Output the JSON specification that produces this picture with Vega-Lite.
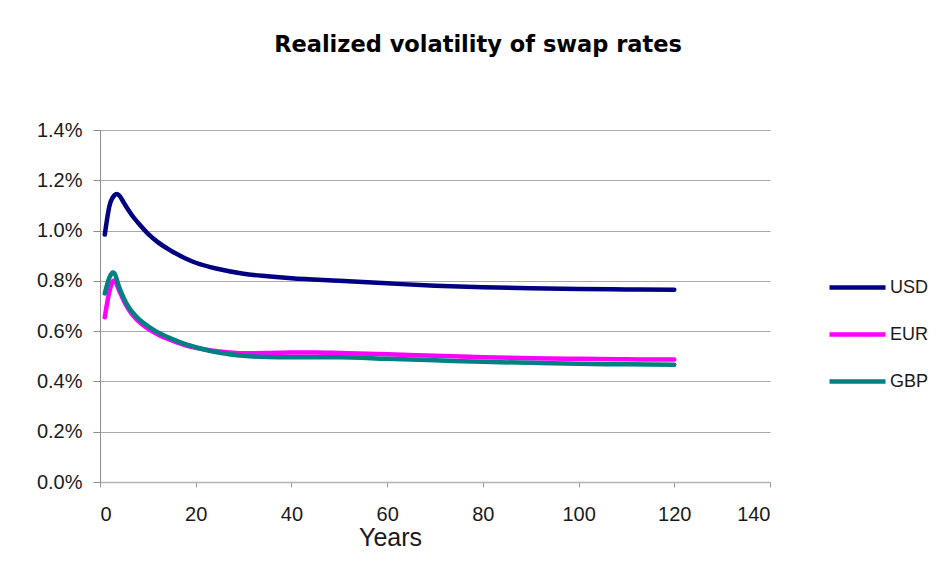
{
  "$schema": "https://vega.github.io/schema/vega-lite/v6.json",
  "description": "Realized volatility of swap rates by maturity (years) for USD, EUR and GBP.",
  "width": 670,
  "height": 352,
  "autosize": {"type": "none"},
  "padding": {"left": 100, "top": 130, "right": 168, "bottom": 81},
  "background": "white",
  "title": {
    "text": "Realized volatility of swap rates",
    "anchor": "middle",
    "dx": 43,
    "offset": 64,
    "font": "DejaVu Sans",
    "fontSize": 22.5,
    "fontWeight": "bold",
    "color": "black"
  },
  "data": {
    "values": [
      {"years": 1, "currency": "USD", "vol": 0.984},
      {"years": 2, "currency": "USD", "vol": 1.10},
      {"years": 3, "currency": "USD", "vol": 1.14},
      {"years": 3.5, "currency": "USD", "vol": 1.145},
      {"years": 4, "currency": "USD", "vol": 1.14},
      {"years": 5, "currency": "USD", "vol": 1.11},
      {"years": 6, "currency": "USD", "vol": 1.08},
      {"years": 7, "currency": "USD", "vol": 1.053},
      {"years": 8, "currency": "USD", "vol": 1.03},
      {"years": 10, "currency": "USD", "vol": 0.988},
      {"years": 12, "currency": "USD", "vol": 0.955},
      {"years": 15, "currency": "USD", "vol": 0.918},
      {"years": 18, "currency": "USD", "vol": 0.888},
      {"years": 20, "currency": "USD", "vol": 0.872},
      {"years": 25, "currency": "USD", "vol": 0.846},
      {"years": 30, "currency": "USD", "vol": 0.828},
      {"years": 35, "currency": "USD", "vol": 0.818},
      {"years": 40, "currency": "USD", "vol": 0.810},
      {"years": 50, "currency": "USD", "vol": 0.800},
      {"years": 60, "currency": "USD", "vol": 0.790},
      {"years": 70, "currency": "USD", "vol": 0.781},
      {"years": 80, "currency": "USD", "vol": 0.775},
      {"years": 90, "currency": "USD", "vol": 0.771},
      {"years": 100, "currency": "USD", "vol": 0.768},
      {"years": 110, "currency": "USD", "vol": 0.766},
      {"years": 120, "currency": "USD", "vol": 0.765},

      {"years": 1, "currency": "EUR", "vol": 0.655},
      {"years": 2, "currency": "EUR", "vol": 0.76},
      {"years": 2.8, "currency": "EUR", "vol": 0.80},
      {"years": 3, "currency": "EUR", "vol": 0.80},
      {"years": 4, "currency": "EUR", "vol": 0.762},
      {"years": 5, "currency": "EUR", "vol": 0.72},
      {"years": 6, "currency": "EUR", "vol": 0.686},
      {"years": 7, "currency": "EUR", "vol": 0.66},
      {"years": 8, "currency": "EUR", "vol": 0.64},
      {"years": 10, "currency": "EUR", "vol": 0.61},
      {"years": 12, "currency": "EUR", "vol": 0.588},
      {"years": 15, "currency": "EUR", "vol": 0.563},
      {"years": 18, "currency": "EUR", "vol": 0.543},
      {"years": 20, "currency": "EUR", "vol": 0.534},
      {"years": 25, "currency": "EUR", "vol": 0.519},
      {"years": 30, "currency": "EUR", "vol": 0.512},
      {"years": 35, "currency": "EUR", "vol": 0.513},
      {"years": 40, "currency": "EUR", "vol": 0.515},
      {"years": 45, "currency": "EUR", "vol": 0.515},
      {"years": 50, "currency": "EUR", "vol": 0.513},
      {"years": 60, "currency": "EUR", "vol": 0.508},
      {"years": 70, "currency": "EUR", "vol": 0.502},
      {"years": 80, "currency": "EUR", "vol": 0.496},
      {"years": 90, "currency": "EUR", "vol": 0.492},
      {"years": 100, "currency": "EUR", "vol": 0.490},
      {"years": 110, "currency": "EUR", "vol": 0.488},
      {"years": 120, "currency": "EUR", "vol": 0.487},

      {"years": 1, "currency": "GBP", "vol": 0.75},
      {"years": 2, "currency": "GBP", "vol": 0.815},
      {"years": 2.7, "currency": "GBP", "vol": 0.833},
      {"years": 3, "currency": "GBP", "vol": 0.83},
      {"years": 4, "currency": "GBP", "vol": 0.775},
      {"years": 5, "currency": "GBP", "vol": 0.73},
      {"years": 6, "currency": "GBP", "vol": 0.695},
      {"years": 7, "currency": "GBP", "vol": 0.67},
      {"years": 8, "currency": "GBP", "vol": 0.65},
      {"years": 10, "currency": "GBP", "vol": 0.62},
      {"years": 12, "currency": "GBP", "vol": 0.596},
      {"years": 15, "currency": "GBP", "vol": 0.569},
      {"years": 18, "currency": "GBP", "vol": 0.547},
      {"years": 20, "currency": "GBP", "vol": 0.536},
      {"years": 25, "currency": "GBP", "vol": 0.514},
      {"years": 30, "currency": "GBP", "vol": 0.502},
      {"years": 35, "currency": "GBP", "vol": 0.497},
      {"years": 40, "currency": "GBP", "vol": 0.496},
      {"years": 50, "currency": "GBP", "vol": 0.496},
      {"years": 60, "currency": "GBP", "vol": 0.490},
      {"years": 70, "currency": "GBP", "vol": 0.484},
      {"years": 80, "currency": "GBP", "vol": 0.478},
      {"years": 90, "currency": "GBP", "vol": 0.474},
      {"years": 100, "currency": "GBP", "vol": 0.470},
      {"years": 110, "currency": "GBP", "vol": 0.468},
      {"years": 120, "currency": "GBP", "vol": 0.466}
    ]
  },
  "mark": {"type": "line", "strokeWidth": 4.5, "interpolate": "monotone", "strokeCap": "round", "strokeJoin": "round"},
  "encoding": {
    "x": {
      "field": "years",
      "type": "quantitative",
      "scale": {"domain": [0, 140], "nice": false, "zero": true},
      "axis": {
        "title": "Years",
        "values": [0, 20, 40, 60, 80, 100, 120, 140],
        "grid": false,
        "domainColor": "#b3b3b3",
        "domainWidth": 1.5,
        "tickColor": "#999999",
        "tickSize": 5,
        "labelFont": "Liberation Sans",
        "labelFontSize": 20,
        "labelColor": "#1a1a1a",
        "labelBaseline": "top",
        "labelPadding": 17,
        "titleFont": "Liberation Sans",
        "titleFontSize": 25,
        "titleFontWeight": "normal",
        "titleColor": "#1a1a1a",
        "titleBaseline": "alphabetic",
        "titleAlign": "center",
        "titleX": 290,
        "titleY": 63
      }
    },
    "y": {
      "field": "vol",
      "type": "quantitative",
      "scale": {"domain": [0, 1.4], "nice": false},
      "axis": {
        "title": null,
        "values": [0, 0.2, 0.4, 0.6, 0.8, 1.0, 1.2, 1.4],
        "labelExpr": "format(datum.value, '.1f') + '%'",
        "grid": true,
        "gridColor": "#a8a8a8",
        "gridWidth": 1,
        "domainColor": "#8c8c8c",
        "tickColor": "#8c8c8c",
        "tickSize": 7,
        "labelFont": "Liberation Sans",
        "labelFontSize": 20,
        "labelColor": "#1a1a1a",
        "labelPadding": 11
      }
    },
    "color": {
      "field": "currency",
      "type": "nominal",
      "scale": {"domain": ["USD", "EUR", "GBP"], "range": ["#000080", "#ff00ff", "#008080"]},
      "legend": {
        "title": null,
        "orient": "none",
        "legendX": 727,
        "legendY": 127,
        "symbolType": "stroke",
        "symbolSize": 3136,
        "symbolStrokeWidth": 4.5,
        "labelFont": "Liberation Sans",
        "labelFontSize": 18,
        "labelColor": "#1a1a1a",
        "labelOffset": 2,
        "rowPadding": 7
      }
    }
  },
  "config": {
    "view": {"stroke": null}
  }
}
